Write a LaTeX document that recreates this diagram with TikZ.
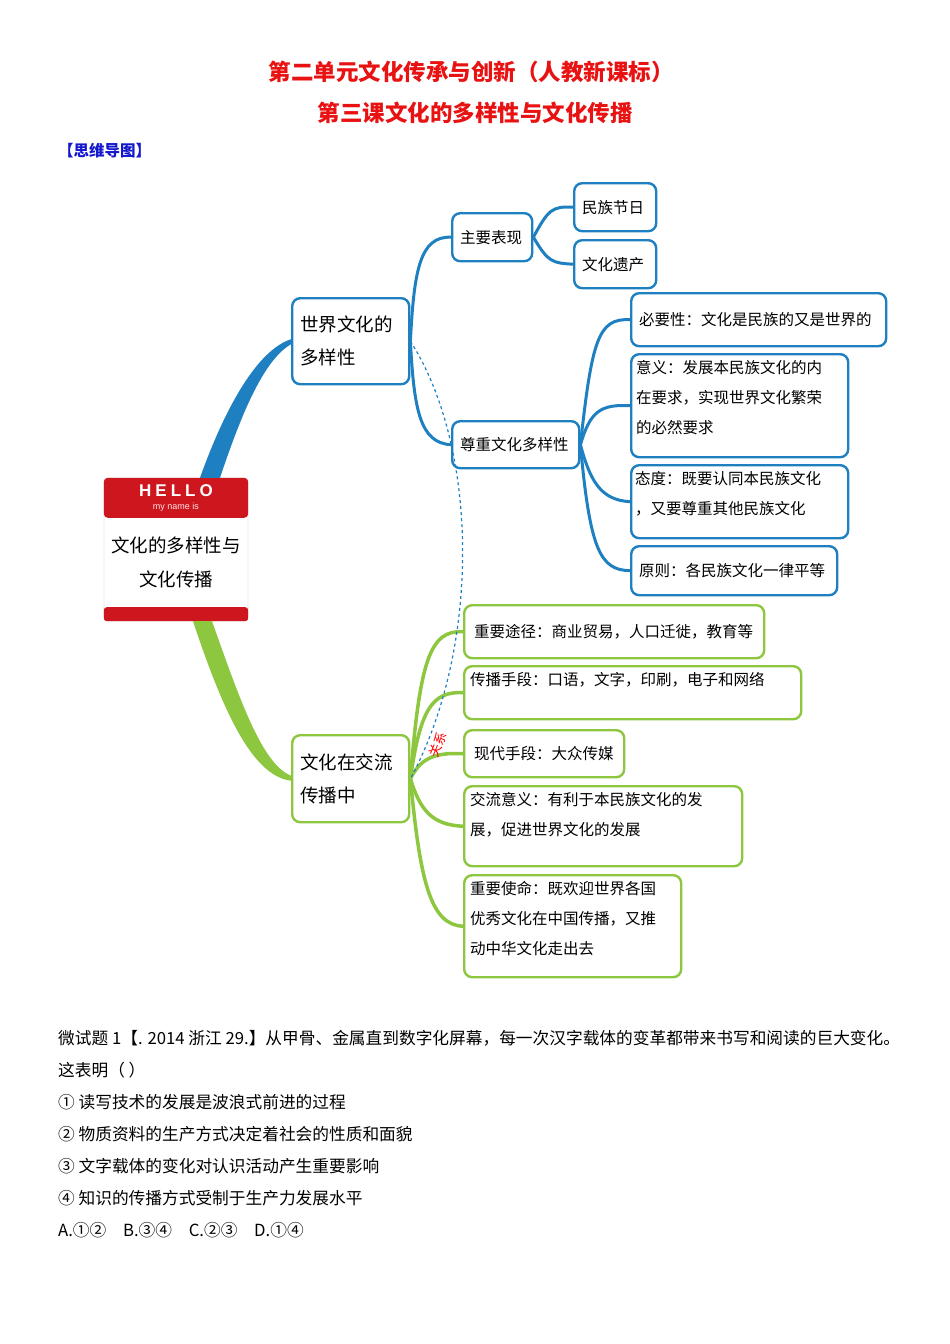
\documentclass[tikz,border=0pt]{standalone}
\usepackage{fontspec}
\setmainfont{Noto Sans CJK SC}
\newfontfamily\hellofont{Liberation Sans}

\definecolor{mapblue}{RGB}{30,128,192}
\definecolor{mapgreen}{RGB}{141,198,63}
\definecolor{tagred}{RGB}{206,22,30}
\definecolor{titlered}{RGB}{232,18,18}
\definecolor{headblue}{RGB}{20,24,205}

\newcommand{\fsz}[2]{\fontsize{#1}{#2}\selectfont}
\newcommand{\topbox}[3]{\parbox[c][#2][t]{#1}{#3}}

\tikzset{
  bluebox/.style={draw=mapblue, line width=2.4pt, rounded corners=8pt, fill=white,
    anchor=north west, inner xsep=8pt, inner ysep=6pt, align=left, font=\fsz{15.5}{30}},
  greenbox/.style={bluebox, draw=mapgreen},
  bluelink/.style={draw=mapblue, line width=3pt},
  greenlink/.style={draw=mapgreen, line width=3.5pt},
}

\begin{document}
\begin{tikzpicture}[x=1pt, y=-1pt]
        \useasboundingbox (0,0) rectangle (950,1344);

        % Title
        \node[text=titlered, font=\fsz{22.5}{26}\bfseries] (title1) at (471,72) {第二单元文化传承与创新（人教新课标）};
        \node[text=titlered, font=\fsz{22.5}{26}\bfseries] (title2) at (475,113) {第三课文化的多样性与文化传播};
        \node[text=headblue, font=\fsz{15.5}{20}\bfseries, anchor=west, inner sep=0pt] (head) at (58,151) {【思维导图】};

        % Center tag
        \node[draw=black!25, fill=white, rounded corners=4pt, minimum width=144, minimum height=143] (main) at (176,549.5) {};
        \fill[tagred, rounded corners=4pt] (main.north west) rectangle ([yshift=-40]main.north east);
        \fill[tagred, rounded corners=3pt] ([yshift=14]main.south west) rectangle (main.south east);
        \node[text=white, font=\hellofont\fsz{17}{20}\bfseries] (hello) at (176,491) {H\kern4pt E\kern4pt L\kern4pt L\kern4pt O};
        \node[text=white!90!red, font=\hellofont\fsz{9}{10}] (myname) at (176,507) {my name is};
        \node[align=center, font=\fsz{18.5}{34}] (maintext) at (176,562) {文化的多样性与\\文化传播};

        % World culture branch
        \node[bluebox, text width=101, minimum height=86, font=\fsz{18.5}{33}] (world) at (291,297) {世界文化的\\多样性};
        \node[bluebox, text width=64, minimum height=48] (show) at (451,212) {主要表现};
        \node[bluebox, text width=66, minimum height=48] (festival) at (573,182) {民族节日};
        \node[bluebox, text width=66, minimum height=48] (heritage) at (573,239) {文化遗产};
        \node[bluebox, text width=111, minimum height=47] (respect) at (451,420) {尊重文化多样性};
        \node[bluebox, text width=239, minimum height=53] (need) at (630,292) {必要性：文化是民族的又是世界的};
        \node[bluebox, inner xsep=5pt, text width=207, minimum height=103] (meaning) at (630,353)
            {\topbox{207pt}{91pt}{意义：发展本民族文化的内\\在要求，实现世界文化繁荣\\的必然要求}};
        \node[bluebox, inner xsep=4pt, text width=209, minimum height=73] (attitude) at (630,464)
            {\topbox{209pt}{61pt}{态度：既要认同本民族文化\\，又要尊重其他民族文化}};
        \node[bluebox, text width=190, minimum height=49] (principle) at (630,545) {原则：各民族文化一律平等};

        % Exchange branch
        \node[greenbox, text width=101, minimum height=87, font=\fsz{18.5}{33}] (spread) at (291,734) {文化在交流\\传播中};
        \node[greenbox, inner xsep=10pt, text width=280, minimum height=53] (route) at (463,604) {重要途径：商业贸易，人口迁徙，教育等};
        \node[greenbox, inner xsep=6pt, text width=325, minimum height=53] (means) at (463,665)
            {\topbox{325pt}{41pt}{传播手段：口语，文字，印刷，电子和网络}};
        \node[greenbox, inner xsep=10pt, text width=140, minimum height=47] (modern) at (463,729) {现代手段：大众传媒};
        \node[greenbox, inner xsep=6pt, text width=266, minimum height=80] (value) at (463,785)
            {\topbox{266pt}{68pt}{交流意义：有利于本民族文化的发\\展，促进世界文化的发展}};
        \node[greenbox, inner xsep=6pt, text width=205, minimum height=102] (mission) at (463,874)
            {\topbox{205pt}{90pt}{重要使命：既欢迎世界各国\\优秀文化在中国传播，又推\\动中华文化走出去}};

        % Main connectors
        \fill[mapblue] ([xshift=24]main.north) .. controls (226,405) and (258,350) .. ([yshift=2]world.west)
            -- ([yshift=-3]world.west) .. controls (264,360) and (242,412) .. ([xshift=44]main.north) -- cycle;
        \fill[mapgreen] ([xshift=17]main.south) .. controls (220,702) and (250,776) .. ([yshift=-2]spread.west)
            -- ([yshift=3]spread.west) .. controls (262,764) and (240,700) .. ([xshift=36]main.south) -- cycle;

        % Blue connectors
        \draw[bluelink] (world.east) .. controls (414,270) and (420,236) .. (show.west);
        \draw[bluelink] (world.east) .. controls (414,410) and (420,443) .. (respect.west);
        \draw[bluelink] (show.east) .. controls (548,210) and (552,206) .. (festival.west);
        \draw[bluelink] (show.east) .. controls (548,262) and (552,263) .. (heritage.west);
        \draw[bluelink] (respect.east) .. controls (592,340) and (598,318) .. (need.west);
        \draw[bluelink] (respect.east) .. controls (590,412) and (600,404) .. (meaning.west);
        \draw[bluelink] (respect.east) .. controls (590,480) and (600,500) .. (attitude.west);
        \draw[bluelink] (respect.east) .. controls (590,550) and (600,570) .. (principle.west);

        % Green connectors
        \draw[greenlink] (spread.east) .. controls (420,660) and (430,630) .. (route.west);
        \draw[greenlink] (spread.east) .. controls (420,710) and (432,691) .. (means.west);
        \draw[greenlink] (spread.east) .. controls (420,760) and (432,752) .. (modern.west);
        \draw[greenlink] (spread.east) .. controls (420,810) and (432,825) .. (value.west);
        \draw[greenlink] (spread.east) .. controls (420,880) and (430,925) .. (mission.west);

        % Relation
        \draw[mapblue, line width=1.2pt, dashed] (world.east) .. controls (480,450) and (480,650) .. (spread.east);
        \node[text=red, rotate=68, inner sep=0pt, font=\fsz{13}{14}] (relation) at (438,745) {关系};

        % Question
        \node[anchor=north west, align=left, inner sep=0pt, font=\fsz{16.7}{32}] (quiz) at (58,1030)
            {微试题 1【. 2014 浙江 29.】从甲骨、金属直到数字化屏幕，每一次汉字载体的变革都带来书写和阅读的巨大变化。\\
             这表明（ ）\\
             ① 读写技术的发展是波浪式前进的过程\\
             ② 物质资料的生产方式决定着社会的性质和面貌\\
             ③ 文字载体的变化对认识活动产生重要影响\\
             ④ 知识的传播方式受制于生产力发展水平\\
             A.①②\quad B.③④\quad C.②③\quad D.①④};
    \end{tikzpicture}
\end{document}
